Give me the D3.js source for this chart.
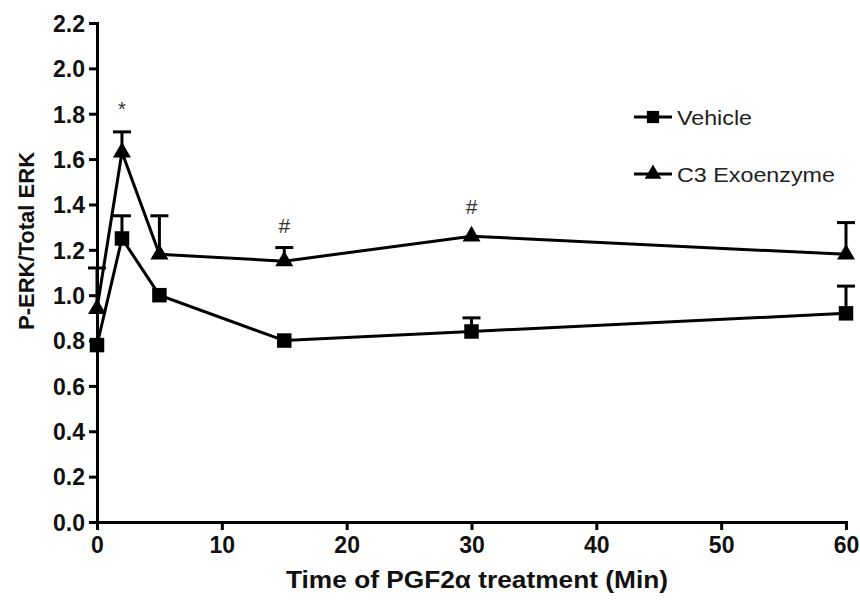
<!DOCTYPE html>
<html><head><meta charset="utf-8">
<script src="https://cdn.jsdelivr.net/npm/d3@7"></script>
<style>body{margin:0;background:#fff}text{font-family:"Liberation Sans",Arial,sans-serif}</style>
</head><body><svg id="c" width="860" height="603"></svg>
<script>
const times = [0, 2, 5, 15, 30, 60];
const vehicle = [0.78, 1.25, 1.00, 0.80, 0.84, 0.92];
const vehicleErr = [0.00, 0.10, 0.00, 0.00, 0.06, 0.12];
const c3 = [0.94, 1.63, 1.18, 1.15, 1.26, 1.18];
const c3Err = [0.18, 0.09, 0.17, 0.06, 0.00, 0.14];
const xTicks = [0, 10, 20, 30, 40, 50, 60];
const yTicks = [0, 0.2, 0.4, 0.6, 0.8, 1.0, 1.2, 1.4, 1.6, 1.8, 2.0, 2.2];
const annotations = [{t: 2, v: 1.79, s: "*"}, {t: 15, v: 1.275, s: "#"}, {t: 30, v: 1.36, s: "#"}];
const seriesNames = ["Vehicle", "C3 Exoenzyme"];

const svg = d3.select("#c");
const x = d3.scaleLinear().domain([0, 60]).range([97, 846]);
const y = d3.scaleLinear().domain([0, 2.2]).range([522, 23]);

const xa = svg.append("g").attr("transform", "translate(0,522)")
  .call(d3.axisBottom(x).tickValues(xTicks).tickFormat(d3.format("d")).tickSize(8).tickPadding(4));
const ya = svg.append("g").attr("transform", "translate(97,0)")
  .call(d3.axisLeft(y).tickValues(yTicks).tickFormat(d3.format(".1f")).tickSize(8).tickPadding(4));
[xa, ya].forEach(a => {
  a.attr("font-size", null);
  a.selectAll("path").attr("stroke", "#000").attr("stroke-width", 3);
  a.selectAll("line").attr("stroke", "#000").attr("stroke-width", 3);
  a.selectAll("text").attr("fill", "#111").style("font-size", "23px").style("font-weight", "bold");
});
xa.selectAll("text").attr("dy", "0.82em");
ya.selectAll("text").attr("dy", "0.36em");

svg.append("text").attr("transform", "translate(34,241) rotate(-90)").attr("text-anchor", "middle")
  .style("font-size", "22px").style("font-weight", "bold").attr("fill", "#111").text("P-ERK/Total ERK");
svg.append("text").attr("x", 477).attr("y", 588).attr("text-anchor", "middle")
  .attr("textLength", 382).attr("lengthAdjust", "spacingAndGlyphs")
  .style("font-size", "24px").style("font-weight", "bold").attr("fill", "#111").text("Time of PGF2α treatment (Min)");

const line = d3.line().x((d, i) => x(times[i])).y(d => y(d));
function drawSeries(vals, errs, marker) {
  const g = svg.append("g");
  vals.forEach((v, i) => {
    if (errs[i] > 0) {
      g.append("line").attr("x1", x(times[i])).attr("x2", x(times[i])).attr("y1", y(v)).attr("y2", y(v + errs[i])).attr("stroke", "#000").attr("stroke-width", 3);
      g.append("line").attr("x1", x(times[i]) - 9).attr("x2", x(times[i]) + 9).attr("y1", y(v + errs[i])).attr("y2", y(v + errs[i])).attr("stroke", "#000").attr("stroke-width", 3);
    }
  });
  g.append("path").attr("d", line(vals)).attr("fill", "none").attr("stroke", "#000").attr("stroke-width", 3);
  g.selectAll(".m").data(vals).join("path")
    .attr("transform", (d, i) => `translate(${x(times[i])},${y(d)})`)
    .attr("d", d3.symbol().type(marker).size(marker === d3.symbolSquare ? 210 : 140)).attr("fill", "#000");
}
drawSeries(c3, c3Err, d3.symbolTriangle);
drawSeries(vehicle, vehicleErr, d3.symbolSquare);

annotations.forEach(a => {
  svg.append("text").attr("x", x(a.t)).attr("y", y(a.v)).attr("text-anchor", "middle")
    .style("font-size", a.s === "*" ? "20px" : "21px").attr("fill", "#333").text(a.s);
});

const leg = [{n: seriesNames[0], m: d3.symbolSquare, yy: 117, w: 75}, {n: seriesNames[1], m: d3.symbolTriangle, yy: 174, w: 158}];
leg.forEach(l => {
  svg.append("line").attr("x1", 634).attr("x2", 672).attr("y1", l.yy).attr("y2", l.yy).attr("stroke", "#000").attr("stroke-width", 3);
  svg.append("path").attr("transform", `translate(653,${l.yy})`).attr("d", d3.symbol().type(l.m).size(l.m === d3.symbolSquare ? 150 : 120)).attr("fill", "#000");
  svg.append("text").attr("x", 677).attr("y", l.yy + 8).style("font-size", "21px").attr("fill", "#222")
    .attr("textLength", l.w).attr("lengthAdjust", "spacingAndGlyphs").text(l.n);
});
</script></body></html>
